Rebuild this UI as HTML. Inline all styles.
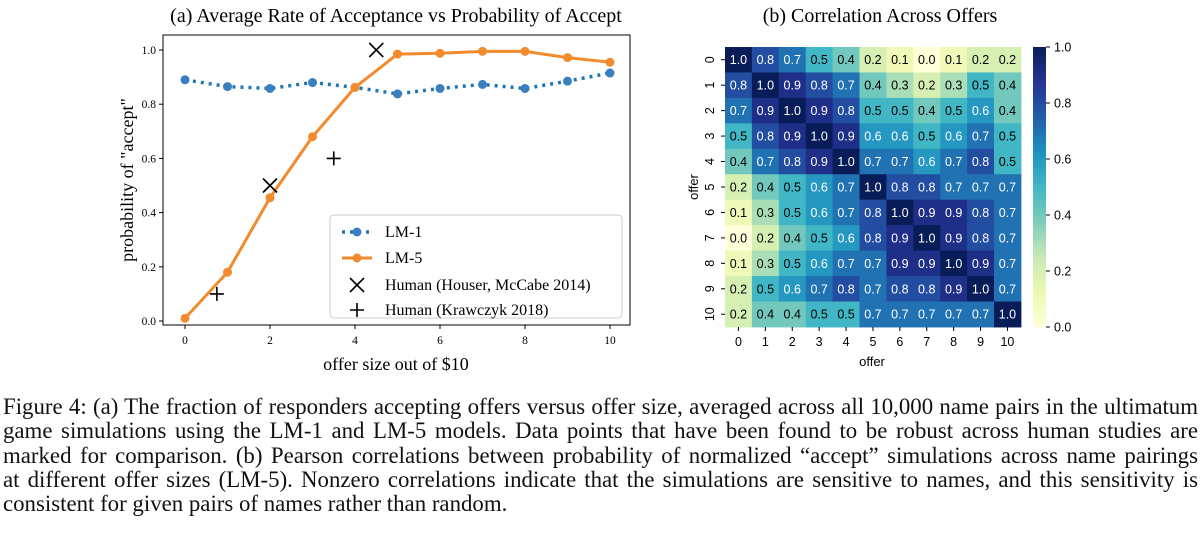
<!DOCTYPE html>
<html><head><meta charset="utf-8"><style>
body{margin:0;background:#fff;width:1200px;height:550px;overflow:hidden;font-family:"Liberation Serif",serif}
.cap{position:absolute;left:3px;top:395px;width:1195px;font-size:22.85px;line-height:24.3px;color:#111;text-align:justify}
</style></head><body>
<svg id="s" width="1200" height="390" style="position:absolute;left:0;top:0"></svg>
<div class="cap">Figure 4: (a) The fraction of responders accepting offers versus offer size, averaged across all 10,000 name pairs in the ultimatum game simulations using the LM-1 and LM-5 models. Data points that have been found to be robust across human studies are marked for comparison. (b) Pearson correlations between probability of normalized “accept” simulations across name pairings at&nbsp;different offer sizes (LM-5). Nonzero correlations indicate that the simulations are sensitive to names, and this sensitivity is consistent for given pairs of names rather than random.</div>
<script>
const offers=[0,1,2,3,4,5,6,7,8,9,10];
const lm1=[0.89,0.865,0.858,0.88,0.862,0.838,0.858,0.873,0.858,0.885,0.915];
const lm5=[0.01,0.18,0.455,0.68,0.862,0.985,0.988,0.995,0.995,0.972,0.955];
const houserX=[2,4.5], houserY=[0.5,1.0];
const krawX=[0.75,3.5], krawY=[0.1,0.6];
const xTicks=[0,2,4,6,8,10];
const yTicks=[0.0,0.2,0.4,0.6,0.8,1.0];
const corr=[
[1.0,0.8,0.7,0.5,0.4,0.2,0.1,0.0,0.1,0.2,0.2],
[0.8,1.0,0.9,0.8,0.7,0.4,0.3,0.2,0.3,0.5,0.4],
[0.7,0.9,1.0,0.9,0.8,0.5,0.5,0.4,0.5,0.6,0.4],
[0.5,0.8,0.9,1.0,0.9,0.6,0.6,0.5,0.6,0.7,0.5],
[0.4,0.7,0.8,0.9,1.0,0.7,0.7,0.6,0.7,0.8,0.5],
[0.2,0.4,0.5,0.6,0.7,1.0,0.8,0.8,0.7,0.7,0.7],
[0.1,0.3,0.5,0.6,0.7,0.8,1.0,0.9,0.9,0.8,0.7],
[0.0,0.2,0.4,0.5,0.6,0.8,0.9,1.0,0.9,0.8,0.7],
[0.1,0.3,0.5,0.6,0.7,0.7,0.9,0.9,1.0,0.9,0.7],
[0.2,0.5,0.6,0.7,0.8,0.7,0.8,0.8,0.9,1.0,0.7],
[0.2,0.4,0.4,0.5,0.5,0.7,0.7,0.7,0.7,0.7,1.0]];
const cbTicks=[0.0,0.2,0.4,0.6,0.8,1.0];

const s=document.getElementById('s');const NS='http://www.w3.org/2000/svg';
function el(t,a,txt){const e=document.createElementNS(NS,t);for(const k in a)e.setAttribute(k,a[k]);if(txt!==undefined)e.textContent=txt;s.appendChild(e);return e;}
const X=v=>185+v*42.5, Y=v=>321-v*271;
let e;
e=el('text',{x:396,y:22,'text-anchor':'middle','font-size':20,'font-family':'Liberation Serif'},'(a) Average Rate of Acceptance vs Probability of Accept');

e=el('rect',{x:163,y:35,width:467,height:290,fill:'none',stroke:'#000','stroke-width':1});

xTicks.forEach(t=>{el('line',{x1:X(t),x2:X(t),y1:325,y2:329,stroke:'#000'});
e=el('text',{x:X(t),y:344,'text-anchor':'middle','font-size':11.5,'font-family':'Liberation Serif'},t);
});
yTicks.forEach(t=>{el('line',{x1:159,x2:163,y1:Y(t),y2:Y(t),stroke:'#000'});
e=el('text',{x:156,y:Y(t)+4,'text-anchor':'end','font-size':11.5,'font-family':'Liberation Serif'},t.toFixed(1));
});
e=el('text',{x:396,y:370,'text-anchor':'middle','font-size':18,'font-family':'Liberation Serif'},'offer size out of $10');

e=el('text',{x:0,y:0,transform:'translate(133,180) rotate(-90)','text-anchor':'middle','font-size':18,'font-family':'Liberation Serif'},'probability of "accept"');

const pts=a=>offers.map((o,i)=>X(o)+','+Y(a[i])).join(' ');
e=el('polyline',{points:pts(lm1),fill:'none',stroke:'#1f77b4','stroke-width':3.5,'stroke-dasharray':'3,5'});

offers.forEach((o,i)=>{e=el('circle',{cx:X(o),cy:Y(lm1[i]),r:4.5,fill:'#3a7fc0'});});
e=el('polyline',{points:pts(lm5),fill:'none',stroke:'#f28a2e','stroke-width':3});

offers.forEach((o,i)=>{e=el('circle',{cx:X(o),cy:Y(lm5[i]),r:4.5,fill:'#f28a2e'});});
function xm(cx,cy,n){const g=document.createElementNS(NS,'path');g.setAttribute('d',`M${cx-7},${cy-7}L${cx+7},${cy+7}M${cx-7},${cy+7}L${cx+7},${cy-7}`);g.setAttribute('stroke','#000');g.setAttribute('stroke-width',1.6);s.appendChild(g);}
function pm(cx,cy,n){const g=document.createElementNS(NS,'path');g.setAttribute('d',`M${cx-7},${cy}L${cx+7},${cy}M${cx},${cy-7}L${cx},${cy+7}`);g.setAttribute('stroke','#000');g.setAttribute('stroke-width',1.6);s.appendChild(g);}
houserX.forEach((v,i)=>xm(X(v),Y(houserY[i]),'houser-marker'));
krawX.forEach((v,i)=>pm(X(v),Y(krawY[i]),'krawczyk-marker'));
e=el('rect',{x:330,y:215,width:292,height:103,rx:4,fill:'#fff',stroke:'#ccc'});

const lg=['LM-1','LM-5','Human (Houser, McCabe 2014)','Human (Krawczyk 2018)'];
el('line',{x1:342,x2:372,y1:232,y2:232,stroke:'#1f77b4','stroke-width':3.5,'stroke-dasharray':'3,5'});el('circle',{cx:357,cy:232,r:4.5,fill:'#3a7fc0'});
el('line',{x1:342,x2:372,y1:258,y2:258,stroke:'#f28a2e','stroke-width':3});el('circle',{cx:357,cy:258,r:4.5,fill:'#f28a2e'});
xm(357,285,'legend-houser-marker');pm(357,310,'legend-krawczyk-marker');
lg.forEach((l,i)=>{e=el('text',{x:385,y:[237,263,290,315][i],'font-size':16,'font-family':'Liberation Serif'},l);});
const stops=[[255,255,217],[237,248,177],[199,233,180],[127,205,187],[65,182,196],[29,145,192],[34,94,168],[37,52,148],[8,29,88]];
function cmap(v){v=Math.max(0,Math.min(1,v))*(stops.length-1);const i=Math.min(Math.floor(v),stops.length-2),f=v-i;const c=stops[i].map((a,k)=>Math.round(a+(stops[i+1][k]-a)*f));return `rgb(${c})`;}
e=el('text',{x:880,y:22,'text-anchor':'middle','font-size':20,'font-family':'Liberation Serif'},'(b) Correlation Across Offers');

const hx=725,hy=47,cw=26.9,ch=25.45;
corr.forEach((row,r)=>row.forEach((v,c)=>{
e=el('rect',{x:hx+c*cw,y:hy+r*ch,width:cw+0.5,height:ch+0.5,fill:cmap(v)});
e=el('text',{x:hx+c*cw+cw/2,y:hy+r*ch+ch/2+4.5,'text-anchor':'middle','font-size':12.5,'font-family':'Liberation Sans',fill:v>0.55?'#fff':'#000'},v.toFixed(1));
}));
offers.forEach((o,i)=>{
el('line',{x1:hx+i*cw+cw/2,x2:hx+i*cw+cw/2,y1:327,y2:331,stroke:'#000'});
e=el('text',{x:hx+i*cw+cw/2,y:346,'text-anchor':'middle','font-size':12.5,'font-family':'Liberation Sans'},o);
el('line',{x1:721,x2:725,y1:hy+i*ch+ch/2,y2:hy+i*ch+ch/2,stroke:'#000'});
e=el('text',{x:0,y:0,transform:`translate(714,${hy+i*ch+ch/2}) rotate(-90)`,'text-anchor':'middle','font-size':12.5,'font-family':'Liberation Sans'},o);
});
e=el('text',{x:872,y:366,'text-anchor':'middle','font-size':13,'font-family':'Liberation Sans'},'offer');
e=el('text',{x:0,y:0,transform:'translate(698,187) rotate(-90)','text-anchor':'middle','font-size':13,'font-family':'Liberation Sans'},'offer');
const cbx=1033,cby=47,cbw=13,cbh=280;
const defs=el('defs',{});const lgd=document.createElementNS(NS,'linearGradient');lgd.setAttribute('id','cb');lgd.setAttribute('x1',0);lgd.setAttribute('y1',1);lgd.setAttribute('x2',0);lgd.setAttribute('y2',0);defs.appendChild(lgd);
stops.forEach((c,i)=>{const st=document.createElementNS(NS,'stop');st.setAttribute('offset',i/(stops.length-1));st.setAttribute('stop-color',`rgb(${c})`);lgd.appendChild(st);});
e=el('rect',{x:cbx,y:cby,width:cbw,height:cbh,fill:'url(#cb)'});
cbTicks.forEach(t=>{const yy=cby+cbh-t*cbh;el('line',{x1:cbx+cbw,x2:cbx+cbw+4,y1:yy,y2:yy,stroke:'#000'});
e=el('text',{x:cbx+cbw+8,y:yy+4.5,'font-size':12.5,'font-family':'Liberation Sans'},t.toFixed(1));});
</script>
</body></html>
